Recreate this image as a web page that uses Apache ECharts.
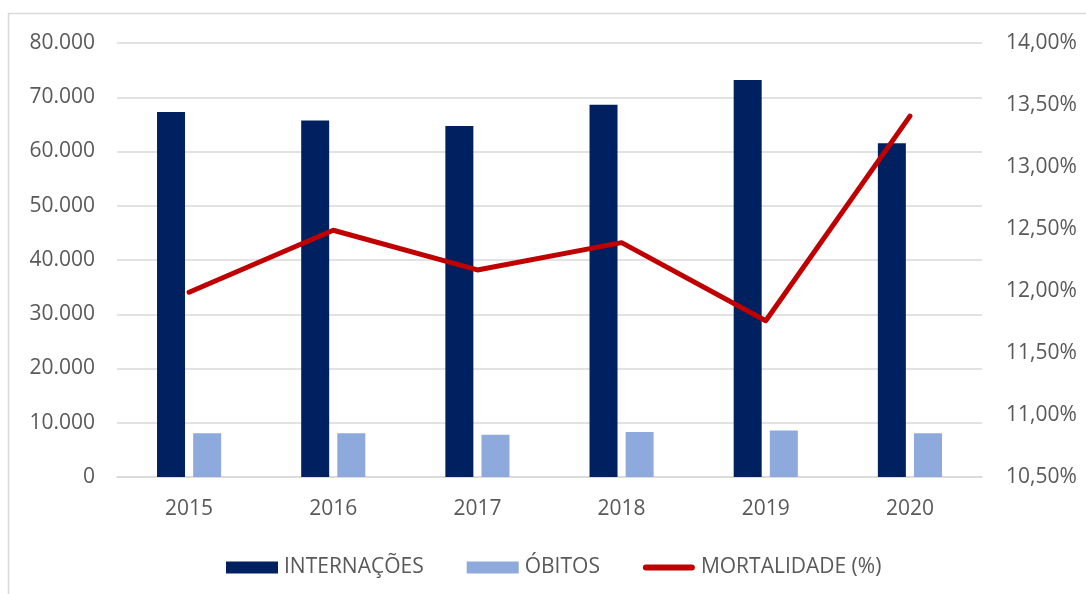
<!DOCTYPE html>
<html><head><meta charset="utf-8">
<script src="https://cdn.jsdelivr.net/npm/echarts@6/dist/echarts.min.js"></script>
<style>html,body{margin:0;padding:0;background:#fff}#c{width:1086px;height:594px}</style>
</head><body><div id="c"></div>
<script>
const categories = ['2015','2016','2017','2018','2019','2020'];
const internacoes = [67300, 65700, 64700, 68600, 73200, 61500];
const obitos = [8050, 8050, 7800, 8300, 8550, 8050];
const mortalidade = [11.99, 12.49, 12.17, 12.39, 11.76, 13.41];
const leftTicks = {min: 0, max: 80000, interval: 10000};
const rightTicks = {min: 10.5, max: 14, interval: 0.5};

const font = '"Open Sans", "Liberation Sans", sans-serif';
const txt = '#595959';
const chart = echarts.init(document.getElementById('c'), null, {renderer: 'canvas'});
chart.setOption({
  animation: false,
  backgroundColor: '#fff',
  graphic: [{type: 'rect', shape: {x: 8.5, y: 13.5, width: 1200, height: 700}, style: {fill: 'none', stroke: '#d9d9d9', lineWidth: 1.5}, silent: true, z: -10}],
  grid: {left: 117, right: 104, top: 43, bottom: 117},
  legend: {
    left: 226, top: 557, padding: 0, itemWidth: 52, itemHeight: 12, itemGap: 43,
    textStyle: {color: txt, fontFamily: font, fontSize: 21, padding: [0, 0, 0, 1]},
    data: [
      {name: 'INTERNAÇÕES', icon: 'rect'},
      {name: 'ÓBITOS', icon: 'rect'},
      {name: 'MORTALIDADE (%)', icon: 'path://M3,0 L49,0 A3,3 0 0 1 49,6 L3,6 A3,3 0 0 1 3,0 Z'}
    ]
  },
  xAxis: {
    type: 'category', data: categories,
    axisLine: {lineStyle: {color: '#d9d9d9', width: 1.5}}, axisTick: {show: false},
    axisLabel: {color: txt, fontFamily: font, fontSize: 21, margin: 22}
  },
  yAxis: [{
    type: 'value', min: leftTicks.min, max: leftTicks.max, interval: leftTicks.interval,
    axisLine: {show: false}, axisTick: {show: false},
    splitLine: {lineStyle: {color: '#d9d9d9', width: 1.5}},
    axisLabel: {color: txt, fontFamily: font, fontSize: 21, margin: 22,
      formatter: v => v === 0 ? '0' : (v / 1000).toFixed(3)}
  }, {
    type: 'value', min: rightTicks.min, max: rightTicks.max, interval: rightTicks.interval,
    axisLine: {show: false}, axisTick: {show: false}, splitLine: {show: false},
    axisLabel: {color: txt, fontFamily: font, fontSize: 21, margin: 24,
      formatter: v => v.toFixed(2).replace('.', ',') + '%'}
  }],
  series: [{
    name: 'INTERNAÇÕES', type: 'bar', data: internacoes, barWidth: 28, barGap: '29%',
    itemStyle: {color: '#002060'}
  }, {
    name: 'ÓBITOS', type: 'bar', data: obitos, barWidth: 28,
    itemStyle: {color: '#8EA9DB'}
  }, {
    name: 'MORTALIDADE (%)', type: 'line', yAxisIndex: 1, data: mortalidade,
    symbol: 'none', lineStyle: {color: '#C00000', width: 5, cap: 'round', join: 'round'},
    itemStyle: {color: '#C00000'}, z: 5
  }]
});
</script></body></html>
